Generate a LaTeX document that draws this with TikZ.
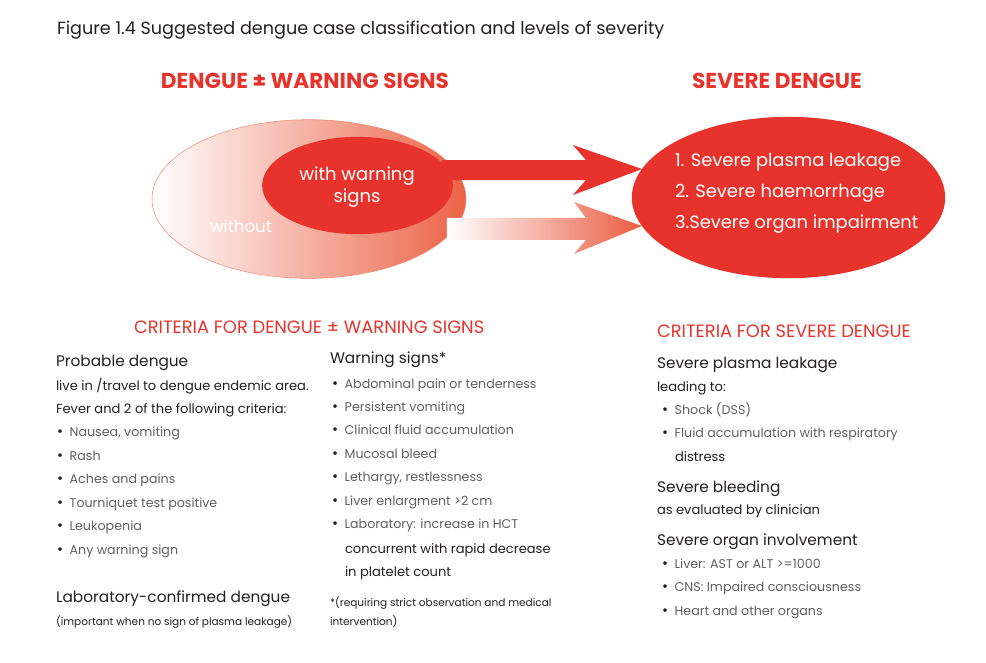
\documentclass[tikz,border=0pt]{standalone}
\usepackage{fontspec}
\setmainfont{Poppins}
\usetikzlibrary{shapes.geometric,calc}
\definecolor{denguered}{RGB}{232,51,45}
\definecolor{ellsalmon}{RGB}{236,98,70}
\definecolor{ellline}{RGB}{240,140,115}
\definecolor{arrowsalmon}{RGB}{235,92,66}
\definecolor{inkdark}{RGB}{35,31,32}
\definecolor{itemgray}{RGB}{95,95,98}
\newcommand{\bul}{\makebox[9.5pt][l]{\textcolor{inkdark}{\fontsize{11}{11}\selectfont\textbullet}}}
\tikzset{
  bighead/.style={font=\fontsize{16.2}{18}\selectfont\bfseries, text=denguered, anchor=base},
  redhead/.style={font=\fontsize{13.4}{15}\selectfont, text=denguered, anchor=base west},
  subhead/.style={font=\fontsize{11.5}{13}\selectfont, text=inkdark, anchor=base west},
  plain/.style={font=\fontsize{9.8}{11}\selectfont, text=inkdark, anchor=base west},
  item/.style={font=\fontsize{9.5}{11}\selectfont, text=itemgray, anchor=base west},
  note/.style={font=\fontsize{7.9}{9}\selectfont, text=inkdark, anchor=base west},
  inwhite/.style={font=\fontsize{13.5}{16.5}\selectfont, text=white}
}
\begin{document}
\begin{tikzpicture}[x=0.75pt,y=-0.75pt,every node/.style={inner sep=0pt,outer sep=0pt}]
\useasboundingbox (0,0) rectangle (986,662);
\node[font=\fontsize{13.2}{15}\selectfont, text=inkdark, anchor=base west] (title) at (57,34) {Figure 1.4 Suggested dengue case classification and levels of severity};
\node[bighead] (dwshead) at (305,88) {DENGUE ± WARNING SIGNS};
\node[bighead] (sdhead) at (777,88) {SEVERE DENGUE};
% ellipses and arrows
\node[ellipse, minimum width=235.5pt, minimum height=119pt, left color=white, right color=ellsalmon, draw=ellline, line width=0.4pt] (without) at (309,199) {};
\node[font=\fontsize{12.5}{15}\selectfont, text=white] (withoutlbl) at (241,226) {without};
\node[ellipse, fill=denguered, minimum width=235pt, minimum height=121pt] (sev) at (788.5,197.5) {};
\fill[denguered] (sev.169) -- ++(-69,-24) -- ++(13,15) -- ++(-144,0) -- ++(0,20) -- ++(144,0) -- ++(-13,15) -- cycle;
\node[ellipse, fill=denguered, minimum width=143pt, minimum height=73pt] (withws) at (357.5,185.5) {};
\node[inwhite, align=center] (withwslbl) at (357,187) {with warning\\signs};
\shade[left color=white, right color=arrowsalmon] (sev.191) -- ++(-68,-24) -- ++(12,16) -- ++(-139,0) -- ++(0,22) -- ++(139,0) -- ++(-12,14) -- cycle;
\node[font=\fontsize{13.4}{23.25}\selectfont, text=white, anchor=west, align=left] (sevlist) at (675,193) {1. Severe plasma leakage\\2. Severe haemorrhage\\3.Severe organ impairment};
% criteria for dengue +- warning signs
\node[redhead] (critws) at (134,333) {CRITERIA FOR DENGUE ± WARNING SIGNS};
\node[subhead] (probable) at (56,366) {Probable dengue};
\node[plain] (travel) at (56,390) {live in /travel to dengue endemic area.};
\node[plain] (fever) at (56,413) {Fever and 2 of the following criteria:};
\foreach \t [count=\i from 0] in {{Nausea, vomiting},Rash,{Aches and pains},{Tourniquet test positive},Leukopenia,{Any warning sign}}
  \node[item] (crit\i) at (57,{436.5+23.5*\i}) {\bul\t};
\node[subhead] (labconf) at (56,602) {Laboratory-confirmed dengue};
\node[note] (labnote) at (56,625) {(important when no sign of plasma leakage)};
\node[subhead] (wsigns) at (330,363) {Warning signs*};
\foreach \t [count=\i from 0] in {{Abdominal pain or tenderness},{Persistent vomiting},{Clinical fluid accumulation},{Mucosal bleed},{Lethargy, restlessness},{Liver enlargment >2 cm},{Laboratory: increase in HCT}}
  \node[item] (warn\i) at (332,{388+23.4*\i}) {\bul\t};
\node[plain] (hcta) at (345,553) {concurrent with rapid decrease};
\node[plain] (hctb) at (345,576) {in platelet count};
\node[note] (stara) at (330,606) {*(requiring strict observation and medical};
\node[note] (starb) at (330,625) {intervention)};
% criteria for severe dengue
\node[redhead] (critsd) at (657,337) {CRITERIA FOR SEVERE DENGUE};
\node[subhead] (sevleak) at (657,368) {Severe plasma leakage};
\node[plain] (leadto) at (657,391) {leading to:};
\node[item] (shock) at (662,414) {\bul Shock (DSS)};
\node[item] (fluid) at (662,437) {\bul Fluid accumulation with respiratory};
\node[plain] (distress) at (675,461) {distress};
\node[subhead] (sevbleed) at (657,492) {Severe bleeding};
\node[plain] (evalby) at (657,514) {as evaluated by clinician};
\node[subhead] (sevorgan) at (657,545) {Severe organ involvement};
\foreach \t [count=\i from 0] in {{Liver: AST or ALT >=1000},{CNS: Impaired consciousness},{Heart and other organs}}
  \node[item] (organ\i) at (662,{568+23.5*\i}) {\bul\t};
\end{tikzpicture}
\end{document}
